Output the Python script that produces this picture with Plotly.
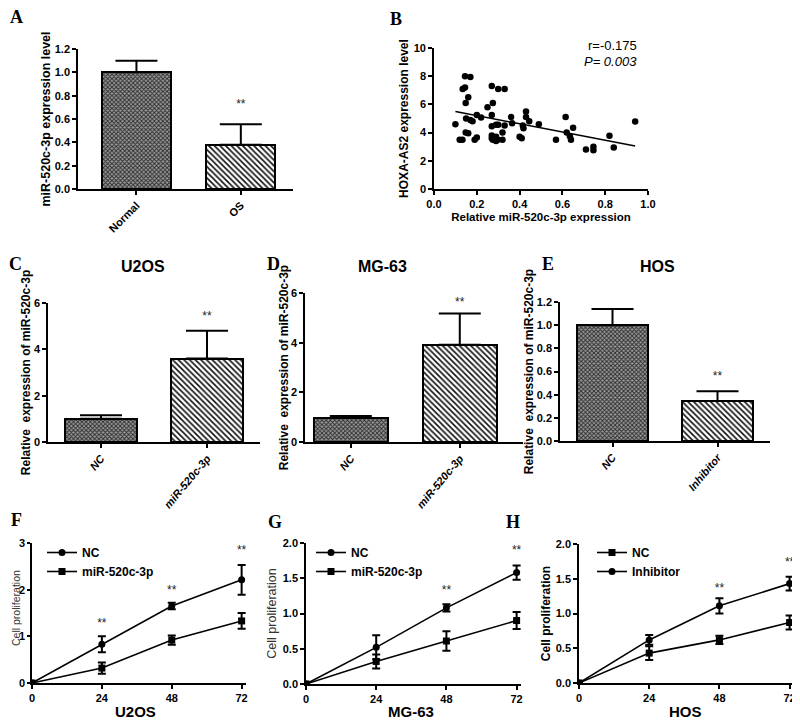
import plotly.graph_objects as go

W, H = 800, 721
OFF = 8  # default page body margin in the browser

# ---------------- data ----------------
# Panel A
a_cats = ["Normal", "OS"]
a_vals = [1.0, 0.38]
a_err = [0.10, 0.175]
a_star_y = [0.72]

# Panel B (scatter)
b_x = [0.10, 0.12, 0.133, 0.134, 0.145, 0.145, 0.148, 0.15, 0.148, 0.16, 0.16, 0.17, 0.17, 0.18,
       0.19, 0.20, 0.20, 0.22, 0.25, 0.27, 0.275, 0.27, 0.27, 0.27, 0.27, 0.275, 0.29, 0.29, 0.298,
       0.29, 0.30, 0.30, 0.33, 0.33, 0.32, 0.32, 0.36, 0.365, 0.40, 0.41, 0.415, 0.418, 0.43, 0.43,
       0.445, 0.49, 0.57, 0.615, 0.62, 0.635, 0.64, 0.65, 0.71, 0.745, 0.745, 0.82, 0.84, 0.94]
b_y = [4.6, 3.5, 3.5, 7.1, 7.2, 8.0, 6.1, 5.0, 4.0, 3.95, 6.5, 7.95, 4.9, 4.8,
       3.5, 3.65, 5.25, 5.07, 5.8, 7.3, 6.1, 5.25, 4.45, 3.8, 3.6, 3.5, 4.55, 3.4, 3.5,
       3.7, 7.1, 4.55, 7.1, 4.5, 4.0, 3.5, 5.1, 4.67, 3.7, 3.6, 4.5, 4.3, 5.5, 5.1,
       4.8, 4.6, 3.5, 5.1, 4.0, 3.75, 3.5, 4.35, 2.8, 3.0, 2.75, 3.77, 2.95, 4.78]
b_fit_x = [0.10, 0.94]
b_fit_y = [5.5, 3.05]

# Panels C, D, E
c_cats = ["NC", "miR-520c-3p"]
c_vals = [1.0, 3.6]
c_err = [0.15, 1.2]
c_star_y = [5.4]
d_cats = ["NC", "miR-520c-3p"]
d_vals = [0.97, 3.92]
d_err = [0.08, 1.25]
d_star_y = [5.6]
e_cats = ["NC", "Inhibitor"]
e_vals = [1.0, 0.345]
e_err = [0.14, 0.085]
e_star_y = [0.55]

# Panels F, G, H
hours = [0, 24, 48, 72]
f_nc = [0, 0.83, 1.65, 2.21]
f_nc_err = [0, 0.17, 0.07, 0.32]
f_mir = [0, 0.32, 0.92, 1.33]
f_mir_err = [0, 0.12, 0.10, 0.17]
f_star_x = [24, 48, 72]
f_star_y = [1.26, 1.97, 2.83]

g_nc = [0, 0.52, 1.08, 1.58]
g_nc_err = [0, 0.17, 0.05, 0.10]
g_mir = [0, 0.32, 0.61, 0.90]
g_mir_err = [0, 0.10, 0.14, 0.12]
g_star_x = [48, 72]
g_star_y = [1.32, 1.89]

h_nc = [0, 0.43, 0.62, 0.87]
h_nc_err = [0, 0.10, 0.06, 0.10]
h_inh = [0, 0.62, 1.11, 1.43]
h_inh_err = [0, 0.07, 0.11, 0.10]
h_star_x = [48, 72]
h_star_y = [1.35, 1.73]

# ---------------- helpers ----------------
FONT = "Liberation Sans"


def px_x(v):
    return (v - OFF) / W


def px_y(v):
    return 1 - (v - OFF) / H


fig = go.Figure()

ctrl_marker = dict(color="#7a7a7a", line=dict(color="black", width=2),
                   pattern=dict(shape="x", size=3, solidity=0.5, fgcolor="#2a2a2a",
                                bgcolor="#9a9a9a", fillmode="replace"))
trt_marker = dict(color="white", line=dict(color="black", width=2),
                  pattern=dict(shape="\\", size=4, solidity=0.4, fgcolor="#111111",
                               bgcolor="#ffffff", fillmode="replace"))


def axis_style(**kw):
    d = dict(showline=True, linecolor="black", linewidth=1.6, ticks="outside", ticklen=4,
             tickwidth=1.5, tickcolor="black", showgrid=False, zeroline=False, automargin=False,
             tickfont=dict(family=FONT, size=11, color="black", weight="bold"))
    d.update(kw)
    return d


def bar_panel(n, cats, vals, errs, star_y, xdom, ydom, xrange, yrange, dtick, tickfmt,
              ytitle, tsize, standoff, tickangle, italic, width):
    xa = "x" if n == 1 else f"x{n}"
    ya = "y" if n == 1 else f"y{n}"
    for i, mk in enumerate([ctrl_marker, trt_marker]):
        fig.add_trace(go.Bar(
            x=[cats[i]], y=[vals[i]], xaxis=xa, yaxis=ya, width=width, showlegend=False,
            marker=mk,
            error_y=dict(type="data", symmetric=False, array=[errs[i]], arrayminus=[0],
                         color="black", thickness=2, width=21)))
    fig.add_trace(go.Scatter(
        x=[cats[1]] * len(star_y), y=star_y, xaxis=xa, yaxis=ya, mode="text",
        text=["**"] * len(star_y),
        textfont=dict(family=FONT, size=12, color="#222"), showlegend=False, hoverinfo="skip"))
    key_x = "xaxis" if n == 1 else f"xaxis{n}"
    key_y = "yaxis" if n == 1 else f"yaxis{n}"
    tf = dict(family=FONT, size=11, color="black", weight="bold")
    if italic:
        tf["style"] = "italic"
    fig.update_layout(**{
        key_x: axis_style(domain=xdom, range=xrange, anchor=ya, tickangle=tickangle, tickfont=tf),
        key_y: axis_style(domain=ydom, range=yrange, anchor=xa, dtick=dtick, tickformat=tickfmt,
                          title=dict(text=ytitle, font=dict(family=FONT, size=tsize, color="black",
                                                            weight="bold"), standoff=standoff)),
    })


# Panel A
bar_panel(1, a_cats, a_vals, a_err, a_star_y,
          [px_x(78), px_x(293)], [px_y(189), px_y(49)], [-0.56, 1.5], [0, 1.2], 0.2, ".1f",
          "miR-520c-3p expression level", 12.5, 1, -45, False, 0.66)
# Panel C
bar_panel(3, c_cats, c_vals, c_err, c_star_y,
          [px_x(48), px_x(260)], [px_y(442), px_y(303)], [-0.5, 1.5], [0, 6], 2, "d",
          "Relative  expression of miR-520c-3p", 12, 1, -50, True, 0.68)
# Panel D
bar_panel(4, d_cats, d_vals, d_err, d_star_y,
          [px_x(305), px_x(523)], [px_y(442), px_y(293)], [-0.42, 1.58], [0, 6], 2, "d",
          "Relative  expression of miR-520c-3p", 12, 0, -50, True, 0.68)
# Panel E
bar_panel(5, e_cats, e_vals, e_err, e_star_y,
          [px_x(560), px_x(770)], [px_y(441), px_y(302)], [-0.5, 1.5], [0, 1.2], 0.2, ".1f",
          "Relative  expression of miR-520c-3p", 12, 1, -50, True, 0.67)

# Panel B
fig.add_trace(go.Scatter(x=b_x, y=b_y, xaxis="x2", yaxis="y2", mode="markers",
                         marker=dict(color="black", size=6.5), showlegend=False))
fig.add_trace(go.Scatter(x=b_fit_x, y=b_fit_y, xaxis="x2", yaxis="y2", mode="lines",
                         line=dict(color="black", width=1.6), showlegend=False))
fig.update_layout(
    xaxis2=axis_style(domain=[px_x(434), px_x(648)], range=[0, 1.0], dtick=0.2, tickformat=".1f",
                      anchor="y2",
                      title=dict(text="Relative miR-520c-3p expression",
                                 font=dict(family=FONT, size=11.5, color="black", weight="bold"),
                                 standoff=4)),
    yaxis2=axis_style(domain=[px_y(189), px_y(48)], range=[0, 10], dtick=2, anchor="x2",
                      title=dict(text="HOXA-AS2 expression level",
                                 font=dict(family=FONT, size=12, color="black", weight="bold"),
                                 standoff=3)),
)


def line_panel(n, s1, s1e, s2, s2e, names, symbols, star_x, star_y, xdom, ydom, yrange, dtick,
               tickfmt, ytitle, ytitle_bold, legend_pos, yticklen=4):
    xa, ya = f"x{n}", f"y{n}"
    lg = f"legend{n - 4}"
    for vals, errs, name, sym in [(s1, s1e, names[0], symbols[0]), (s2, s2e, names[1], symbols[1])]:
        fig.add_trace(go.Scatter(
            x=hours, y=vals, xaxis=xa, yaxis=ya, mode="lines+markers", name=name, legend=lg,
            line=dict(color="black", width=1.6),
            marker=dict(symbol=sym, size=7, color="black"),
            error_y=dict(type="data", array=errs, color="black", thickness=2, width=4)))
    fig.add_trace(go.Scatter(
        x=star_x, y=star_y, xaxis=xa, yaxis=ya, mode="text", text=["**"] * len(star_x),
        textfont=dict(family=FONT, size=12, color="#222"), showlegend=False, hoverinfo="skip"))
    ytf = dict(family=FONT, size=12.5, color="#333")
    if ytitle_bold:
        ytf = dict(family=FONT, size=12, color="black", weight="bold")
    fig.update_layout(**{
        f"xaxis{n}": axis_style(domain=xdom, range=[0, 73.5], tickvals=hours, anchor=ya),
        f"yaxis{n}": axis_style(domain=ydom, range=yrange, dtick=dtick, tickformat=tickfmt, anchor=xa,
                                ticklen=yticklen,
                                title=dict(text=ytitle, font=ytf, standoff=3)),
        lg: dict(x=legend_pos[0], y=legend_pos[1], xanchor="left", yanchor="top",
                 bgcolor="rgba(0,0,0,0)", font=dict(family=FONT, size=12, color="black", weight="bold"),
                 tracegroupgap=0, itemwidth=30),
    })


line_panel(6, f_nc, f_nc_err, f_mir, f_mir_err, ["NC", "miR-520c-3p"], ["circle", "square"],
           f_star_x, f_star_y, [px_x(32), px_x(246)], [px_y(683), px_y(543)], [0, 3], 1, "d",
           "", False, (px_x(42), px_y(538)), yticklen=3)
line_panel(7, g_nc, g_nc_err, g_mir, g_mir_err, ["NC", "miR-520c-3p"], ["circle", "square"],
           g_star_x, g_star_y, [px_x(306), px_x(521)], [px_y(684), px_y(543)], [0, 2], 0.5, ".1f",
           "Cell proliferation", False, (px_x(311), px_y(538)))
line_panel(8, h_nc, h_nc_err, h_inh, h_inh_err, ["NC", "Inhibitor"], ["square", "circle"],
           h_star_x, h_star_y, [px_x(579), px_x(794)], [px_y(683), px_y(544)], [0, 2], 0.5, ".1f",
           "Cell proliferation", True, (px_x(592), px_y(538)))

# ---------------- annotations ----------------
letters = [("A", 16, 17), ("B", 396, 19), ("C", 15, 264), ("D", 273, 264), ("E", 548, 264),
           ("F", 16, 520), ("G", 275, 522), ("H", 513, 522)]
ann = []
for t, x, y in letters:
    ann.append(dict(text=t, x=px_x(x), y=px_y(y), xref="paper", yref="paper", showarrow=False,
                    xanchor="center", yanchor="middle",
                    font=dict(family="Liberation Serif", size=18, color="black", weight="bold")))
for t, x in [("U2OS", 143), ("MG-63", 382), ("HOS", 657)]:
    ann.append(dict(text=t, x=px_x(x), y=px_y(266), xref="paper", yref="paper", showarrow=False,
                    xanchor="center", yanchor="middle",
                    font=dict(family=FONT, size=16, color="black", weight="bold")))
# x-axis titles of the proliferation panels
for t, x in [("U2OS", 135), ("MG-63", 411), ("HOS", 685)]:
    ann.append(dict(text=t, x=px_x(x), y=px_y(711), xref="paper", yref="paper", showarrow=False,
                    xanchor="center", yanchor="middle",
                    font=dict(family=FONT, size=15, color="black", weight="bold")))
# y-axis title of panel F (close to the page edge)
ann.append(dict(text="Cell proliferation", x=px_x(8), y=px_y(608), xref="paper", yref="paper",
                showarrow=False, xanchor="left", yanchor="middle", textangle=-90,
                font=dict(family=FONT, size=10.5, color="#333")))
ann.append(dict(text="r=-0.175", x=px_x(639), y=px_y(46), xref="paper", yref="paper", showarrow=False,
                xanchor="right", yanchor="middle", font=dict(family=FONT, size=13, color="black")))
ann.append(dict(text="<i>P= 0.003</i>", x=px_x(639), y=px_y(62), xref="paper", yref="paper",
                showarrow=False, xanchor="right", yanchor="middle",
                font=dict(family=FONT, size=13, color="black")))

fig.update_layout(template="none", width=W, height=H, margin=dict(l=0, r=0, t=0, b=0),
                  plot_bgcolor="white", paper_bgcolor="white", annotations=ann,
                  barmode="overlay", bargap=0)

fig.write_html("out.html")
